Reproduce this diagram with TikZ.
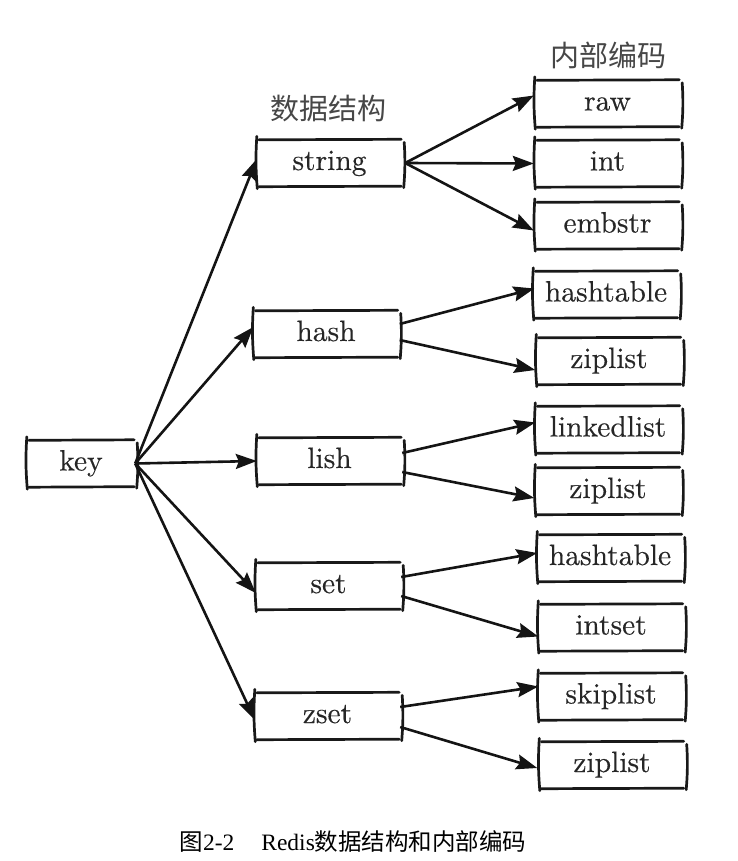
\documentclass[tikz,border=0pt]{standalone}
\usepackage{fontspec}
\newfontfamily\cjk{Noto Sans CJK SC}
\newfontfamily\capfont{Liberation Serif}
\newfontfamily\lbl{lmroman10-regular.otf}[FakeBold=0.3]
\usetikzlibrary{arrows.meta}

\tikzset{
  % hand-drawn stroke used for the box edges
  stroke/.style={line width=2.7pt, line cap=round, draw=black!90},
  % a box drawn as four loose strokes
  sk/.style={minimum width=145pt, minimum height=47pt, inner sep=0pt,
    text height=20pt, text depth=6pt,
    font=\lbl\fontsize{29.5}{32}\selectfont, text=black!85,
    append after command={
      ([xshift=2pt,yshift=-0.5pt]\tikzlastnode.north west) edge[stroke] ([xshift=-1pt]\tikzlastnode.north east)
      ([xshift=2pt]\tikzlastnode.south west) edge[stroke] ([xshift=-1pt,yshift=0.5pt]\tikzlastnode.south east)
      ([yshift=3pt]\tikzlastnode.north west) edge[stroke, bend right=4] ([xshift=0.5pt,yshift=-2pt]\tikzlastnode.south west)
      ([xshift=2pt,yshift=-3pt]\tikzlastnode.north east) edge[stroke, bend left=4] ([xshift=1.5pt,yshift=-1pt]\tikzlastnode.south east)
    }},
  link/.style={line width=2.6pt, draw=black!92,
    -{Stealth[length=21pt, width=15pt, inset=3pt]}},
  head/.style={font=\cjk\fontsize{29}{32}\selectfont, text=black!72, inner sep=0pt}
}

\begin{document}
\begin{tikzpicture}[x=1pt, y=-1pt]
  \useasboundingbox (0,0) rectangle (737,861);

  % column headers
  \node[head] (hdata) at (328,109) {数据结构};
  \node[head] (henc)  at (608,55)  {内部编码};

  % key
  \node[sk, minimum width=108pt] (key) at (81,463.5) {key};

  % data structures
  \node[sk] (string) at (329.5,163) {string};
  \node[sk] (hash)   at (326,334)   {hash};
  \node[sk] (lish)   at (329.5,461) {lish};
  \node[sk] (set)    at (328.5,586) {set};
  \node[sk] (zset)   at (327.5,716) {zset};

  % internal encodings
  \node[sk] (raw)    at (607.5,103.5) {raw};
  \node[sk] (int)    at (607.5,163.5) {int};
  \node[sk] (embstr) at (607.5,225.5) {embstr};
  \node[sk] (htA)    at (606,294.5) {hashtable};
  \node[sk] (zlA)    at (609,361)   {ziplist};
  \node[sk] (linked) at (608,429.5) {linkedlist};
  \node[sk] (zlB)    at (608,491)   {ziplist};
  \node[sk] (htB)    at (610,558)   {hashtable};
  \node[sk] (intset) at (611,627.5) {intset};
  \node[sk] (skip)   at (611,696.5) {skiplist};
  \node[sk] (zlC)    at (612,765)   {ziplist};

  % key to data structures
  \draw[link] (key.east) -- ([yshift=4pt]string.west);
  \draw[link] (key.east) -- ([yshift=7pt]hash.west);
  \draw[link] (key.east) -- (lish.west);
  \draw[link] (key.east) -- ([yshift=-7pt]set.west);
  \draw[link] (key.east) -- ([yshift=-4pt]zset.west);

  % data structures to encodings
  \draw[link] ([xshift=3pt]string.east) -- ([xshift=-1pt,yshift=8pt]raw.west);
  \draw[link] ([xshift=3pt]string.east) -- ([xshift=-1pt]int.west);
  \draw[link] ([xshift=3pt]string.east) -- ([xshift=-1pt,yshift=-5pt]embstr.west);

  \draw[link] ([xshift=1pt,yshift=10pt]hash.east) -- ([xshift=1pt,yshift=6pt]htA.west);
  \draw[link] ([xshift=1pt,yshift=-6pt]hash.east) -- ([xshift=-1pt,yshift=-9pt]zlA.west);

  \draw[link] ([yshift=8pt]lish.east) -- ([yshift=7pt]linked.west);
  \draw[link] ([yshift=-11pt]lish.east) -- ([xshift=-1pt,yshift=-7pt]zlB.west);

  \draw[link] ([yshift=9pt]set.east) -- ([yshift=5pt]htB.west);
  \draw[link] ([yshift=-10pt]set.east) -- ([yshift=-9pt]intset.west);

  \draw[link] ([yshift=9pt]zset.east) -- ([yshift=10pt]skip.west);
  \draw[link] ([yshift=-11pt]zset.east) -- ([xshift=-2pt,yshift=-3pt]zlC.west);

  % caption
  \node[anchor=base, inner sep=0pt, font=\fontsize{23.5}{27}\selectfont] (cap) at (353,850)
    {\cjk 图\capfont 2-2\hspace{27pt}Redis\cjk 数据结构和内部编码};
\end{tikzpicture}
\end{document}
